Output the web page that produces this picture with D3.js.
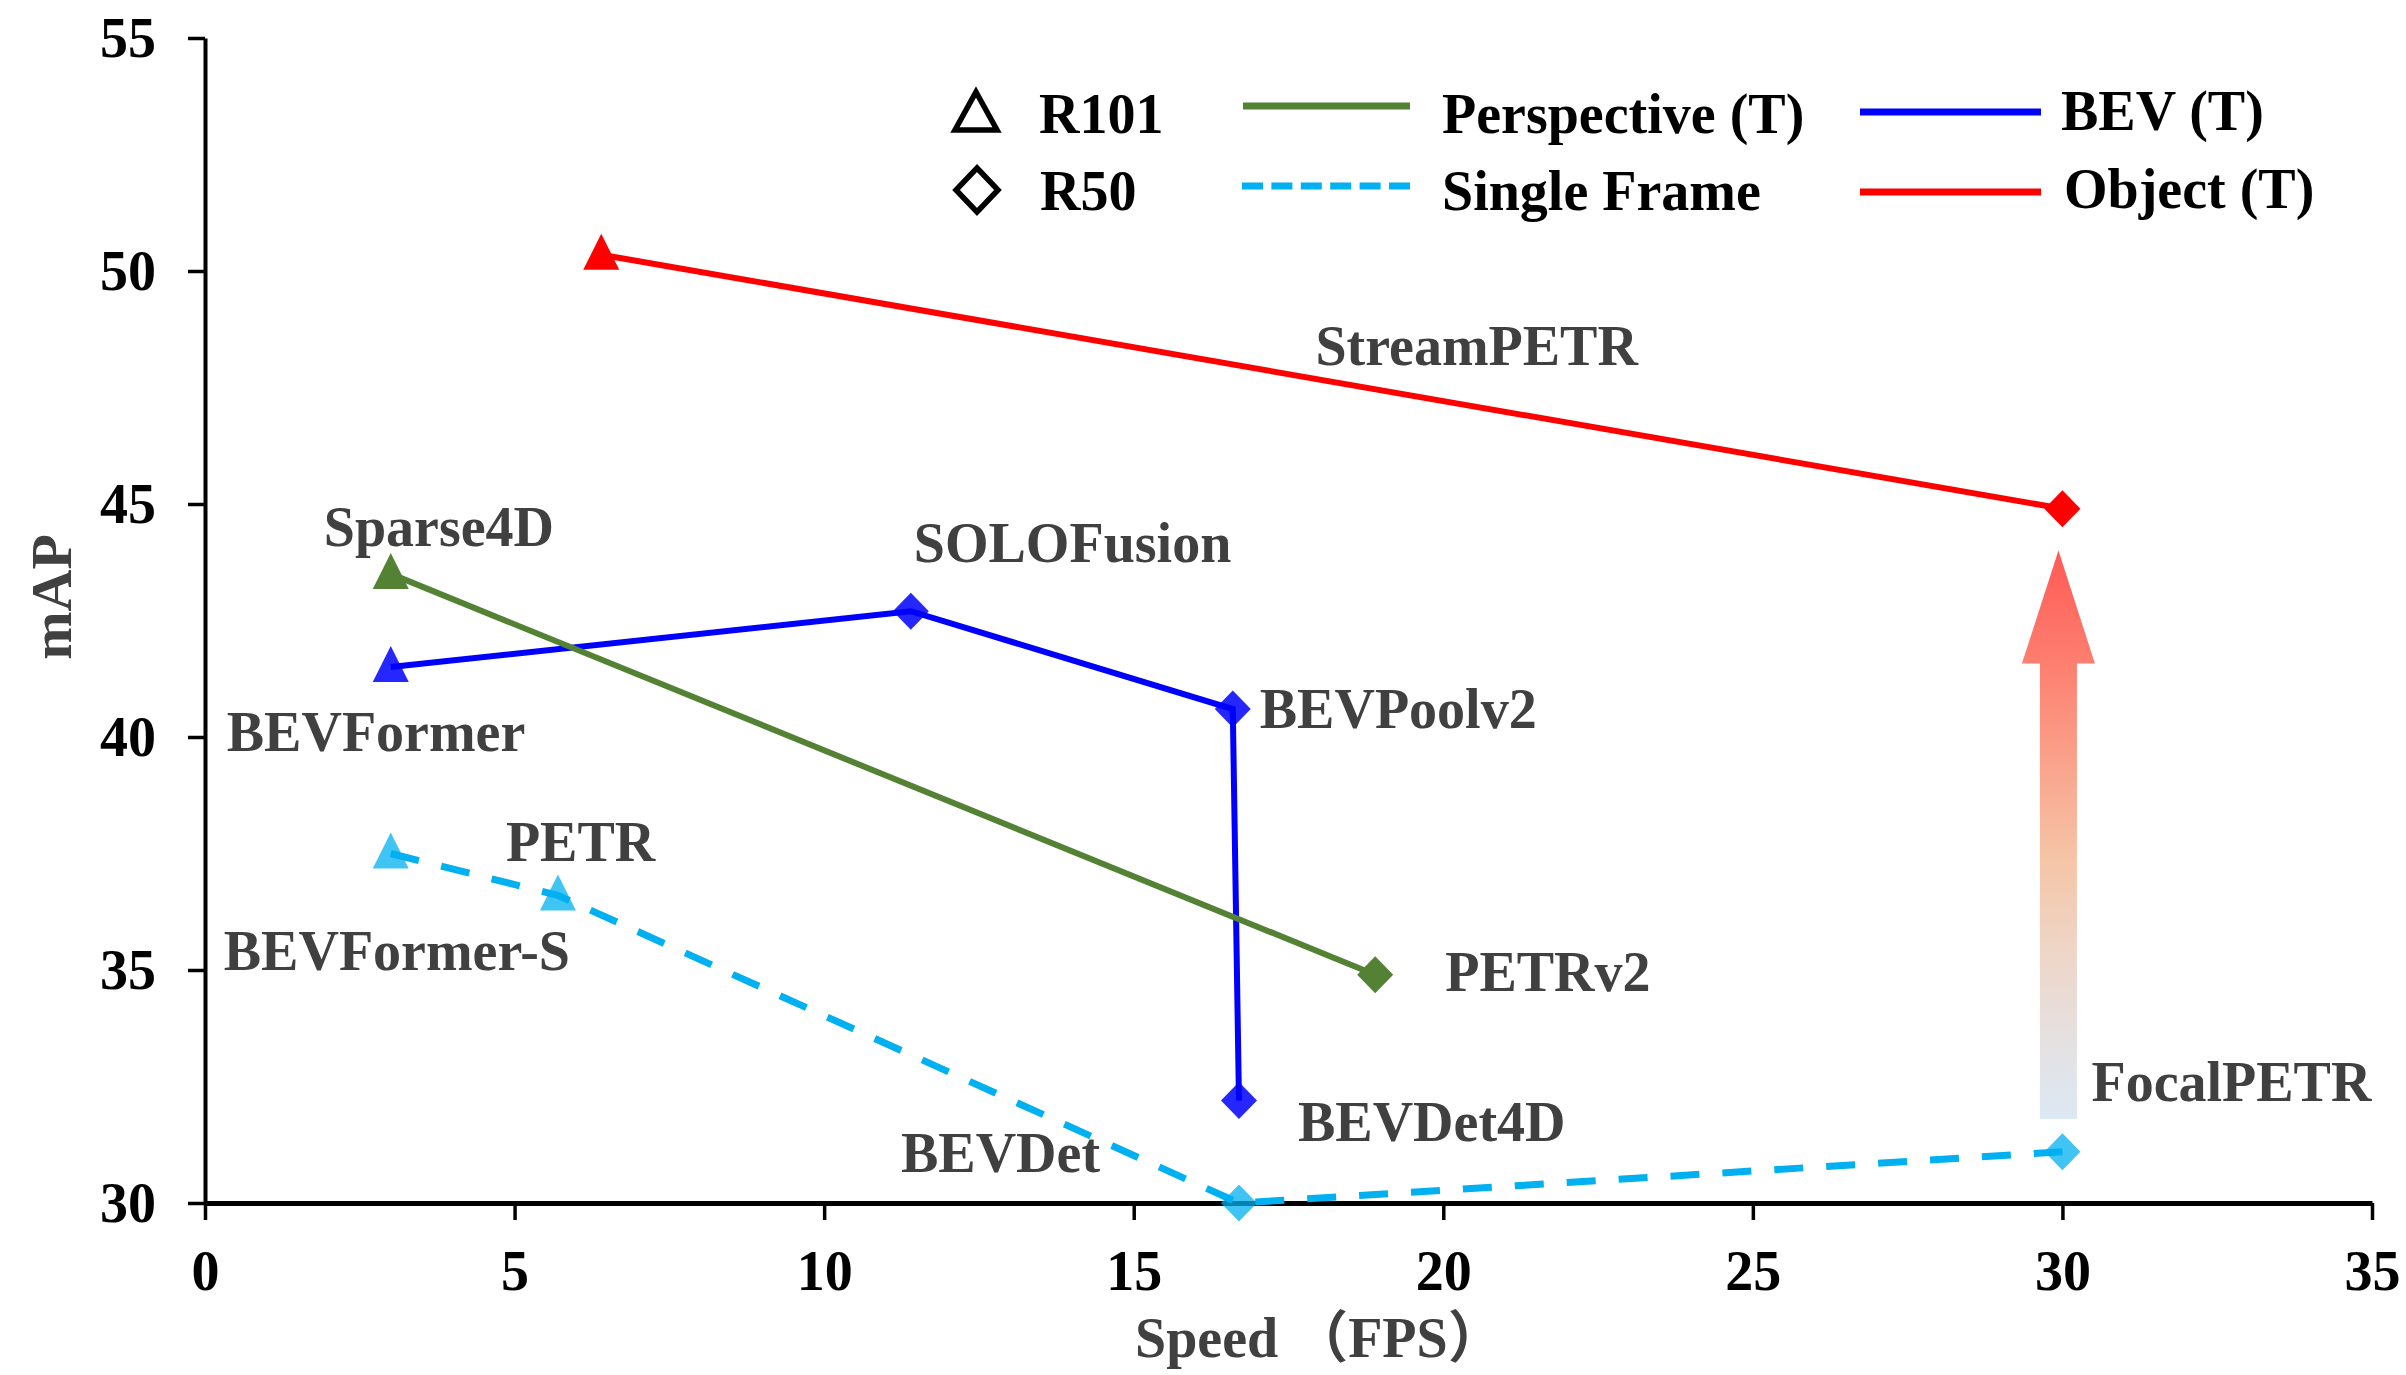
<!DOCTYPE html>
<html>
<head>
<meta charset="utf-8">
<script src="https://cdn.jsdelivr.net/npm/d3@7"></script>
<style>
  body { margin: 0; background: #fff; }
  svg { display: block; }
  text { font-family: "Liberation Serif", "Times New Roman", "Noto Sans CJK SC", serif; font-weight: bold; }
</style>
</head>
<body>
<svg id="chart" width="2406" height="1375"></svg>
<script>
// ---- data ----
const xTicks = [0, 5, 10, 15, 20, 25, 30, 35];
const yTicks = [30, 35, 40, 45, 50, 55];

const perspectiveMethods = ["Sparse4D", "PETRv2"];
const perspectiveFPS = [3.0, 18.9];
const perspectiveMAP = [43.5, 34.9];
const perspectiveBackbone = ["R101", "R50"];

const singleMethods = ["BEVFormer-S", "PETR", "BEVDet", "FocalPETR"];
const singleFPS = [3.0, 5.7, 16.7, 30.0];
const singleMAP = [37.5, 36.6, 30.0, 31.1];
const singleBackbone = ["R101", "R101", "R50", "R50"];

const bevMethods = ["BEVFormer", "SOLOFusion", "BEVPoolv2", "BEVDet4D"];
const bevFPS = [3.0, 11.4, 16.6, 16.7];
const bevMAP = [41.5, 42.7, 40.6, 32.2];
const bevBackbone = ["R101", "R50", "R50", "R50"];

const objectMethods = ["StreamPETR", "StreamPETR"];
const objectFPS = [6.4, 30.0];
const objectMAP = [50.35, 44.9];
const objectBackbone = ["R101", "R50"];

// arrow annotation: FocalPETR -> StreamPETR gain
const arrowFPS = 30;
const arrowFrom = 31.8, arrowTo = 44.0;

// ---- layout ----
const svg = d3.select("#chart");
const x = d3.scaleLinear().domain([0, 35]).range([205, 2372]);
const y = d3.scaleLinear().domain([30, 55]).range([1203, 38]);
const labelGray = "#404040";

function build(methods, fps, map, backbone) {
  return methods.map((m, i) => ({ method: m, fps: fps[i], map: map[i], backbone: backbone[i] }));
}

const series = [
  { name: "Object (T)", color: "#ff0000", markerOpacity: 1, width: 6, dash: null, pts: build(objectMethods, objectFPS, objectMAP, objectBackbone) },
  { name: "BEV (T)", color: "#0000ff", markerOpacity: 0.85, width: 6, dash: null, pts: build(bevMethods, bevFPS, bevMAP, bevBackbone) },
  { name: "Perspective (T)", color: "#548235", markerOpacity: 1, width: 6, dash: null, pts: build(perspectiveMethods, perspectiveFPS, perspectiveMAP, perspectiveBackbone) },
  { name: "Single Frame", color: "#00b0f0", markerOpacity: 0.75, width: 7, dash: "29 23", pts: build(singleMethods, singleFPS, singleMAP, singleBackbone) }
];

// label offsets in pixels from the point (left edge, cap centre)
const labelOffset = {
  "Sparse4D": [-67, -46], "SOLOFusion": [3, -68], "BEVFormer": [-164, 65],
  "BEVPoolv2": [27, 0], "PETR": [-52, -53], "BEVFormer-S": [-167, 98],
  "PETRv2": [70, -2], "BEVDet4D": [59, 22], "BEVDet": [-338, -49],
  "FocalPETR": [29, -69]
};

const triPath = "M0,-21L18,15L-18,15Z";
const diaPath = "M0,-18.5L18,0L0,18.5L-18,0Z";

// gradient for arrow
const defs = svg.append("defs");
const grad = defs.append("linearGradient").attr("id", "gain")
  .attr("x1", 0).attr("y1", 0).attr("x2", 0).attr("y2", 1);
[["0%", "#ff5a55"], ["20%", "#fd7f70"], ["40%", "#f9a890"], ["55%", "#f5c6a8"],
 ["70%", "#eed5c6"], ["85%", "#e6e0e0"], ["100%", "#dce8f4"]]
  .forEach(s => grad.append("stop").attr("offset", s[0]).attr("stop-color", s[1]));

// ---- axes ----
const xAxis = svg.append("g").attr("transform", `translate(0,${y(30)})`)
  .call(d3.axisBottom(x).tickValues(xTicks).tickSize(17).tickSizeOuter(0).tickPadding(30));
const yAxis = svg.append("g").attr("transform", `translate(${x(0)},0)`)
  .call(d3.axisLeft(y).tickValues(yTicks).tickSize(17).tickSizeOuter(0).tickPadding(32));
[xAxis, yAxis].forEach(g => {
  g.selectAll(".tick line").attr("stroke", "#000").attr("stroke-width", 3.5);
  g.selectAll(".tick text").attr("fill", "#000").style("font-size", "56px")
    .style("font-family", "'Liberation Serif', 'Times New Roman', serif").style("font-weight", "bold");
});
xAxis.select(".domain").attr("stroke", "#000").attr("stroke-width", 5);
yAxis.select(".domain").attr("stroke", "#000").attr("stroke-width", 4);
xAxis.selectAll(".tick text").attr("dy", "0.71em");
yAxis.selectAll(".tick text").attr("dy", "0.33em");

svg.append("text").attr("x", 1135).attr("y", 1357)
  .attr("fill", labelGray).style("font-size", "56px").text("Speed （FPS）");
svg.append("text").attr("transform", "translate(71,597) rotate(-90)")
  .attr("text-anchor", "middle").attr("fill", labelGray).style("font-size", "58px").text("mAP");

// ---- arrow ----
const ax = x(arrowFPS) - 4, tipY = y(arrowTo), botY = y(arrowFrom), headY = tipY + 113;
svg.append("path")
  .attr("d", `M${ax},${tipY}L${ax + 36.5},${headY}L${ax + 18.5},${headY}L${ax + 18.5},${botY}` +
             `L${ax - 18.5},${botY}L${ax - 18.5},${headY}L${ax - 36.5},${headY}Z`)
  .attr("fill", "url(#gain)");

// ---- lines ----
const line = d3.line().x(d => x(d.fps)).y(d => y(d.map));
svg.append("g").selectAll("path").data(series).join("path")
  .attr("d", s => line(s.pts)).attr("fill", "none")
  .attr("stroke", s => s.color).attr("stroke-width", s => s.width)
  .attr("stroke-dasharray", s => s.dash).attr("stroke-linejoin", "miter");

// ---- markers ----
series.forEach(s => {
  svg.append("g").selectAll("path").data(s.pts).join("path")
    .attr("transform", d => `translate(${x(d.fps)},${y(d.map)})`)
    .attr("d", d => d.backbone === "R101" ? triPath : diaPath)
    .attr("fill", s.color).attr("fill-opacity", s.markerOpacity);
});

// ---- point labels ----
const labelled = series.flatMap(s => s.pts).filter(d => labelOffset[d.method]);
svg.append("g").selectAll("text").data(labelled).join("text")
  .attr("x", d => x(d.fps) + labelOffset[d.method][0])
  .attr("y", d => y(d.map) + labelOffset[d.method][1])
  .attr("dy", "0.33em").attr("fill", labelGray).style("font-size", "56px")
  .text(d => d.method);

// StreamPETR label sits above the middle of its line
const sp = series[0].pts[1];
svg.append("text").attr("x", x(sp.fps) - 747).attr("y", y(sp.map) - 162)
  .attr("dy", "0.33em").attr("fill", labelGray).style("font-size", "56px").text("StreamPETR");

// ---- legend ----
const legend = svg.append("g");
const legMarkers = [
  { label: "R101", path: "M0,-21L21,17L-21,17Z", cx: 976, cy: 113 },
  { label: "R50", path: "M0,-22L21,0L0,22L-21,0Z", cx: 977, cy: 190 }
];
legMarkers.forEach(m => {
  legend.append("path").attr("transform", `translate(${m.cx},${m.cy})`).attr("d", m.path)
    .attr("fill", "none").attr("stroke", "#000").attr("stroke-width", 5.5).attr("stroke-linejoin", "miter");
  legend.append("text").attr("x", m.cx + 63).attr("y", m.cy + 20).attr("fill", "#000")
    .style("font-size", "56px").text(m.label);
});
const legLines = [
  { s: series[2], x1: 1243, x2: 1410, ly: 106, tx: 1442, ty: 133, dash: null },
  { s: series[3], x1: 1242, x2: 1410, ly: 186, tx: 1442, ty: 210, dash: "21 8.4" },
  { s: series[1], x1: 1860, x2: 2041, ly: 112, tx: 2061, ty: 130, dash: null },
  { s: series[0], x1: 1860, x2: 2041, ly: 192, tx: 2064, ty: 208, dash: null }
];
legLines.forEach(l => {
  legend.append("line").attr("x1", l.x1).attr("x2", l.x2).attr("y1", l.ly).attr("y2", l.ly)
    .attr("stroke", l.s.color).attr("stroke-width", 7).attr("stroke-dasharray", l.dash);
  legend.append("text").attr("x", l.tx).attr("y", l.ty).attr("fill", "#000")
    .style("font-size", "56px").text(l.s.name);
});
</script>
</body>
</html>
